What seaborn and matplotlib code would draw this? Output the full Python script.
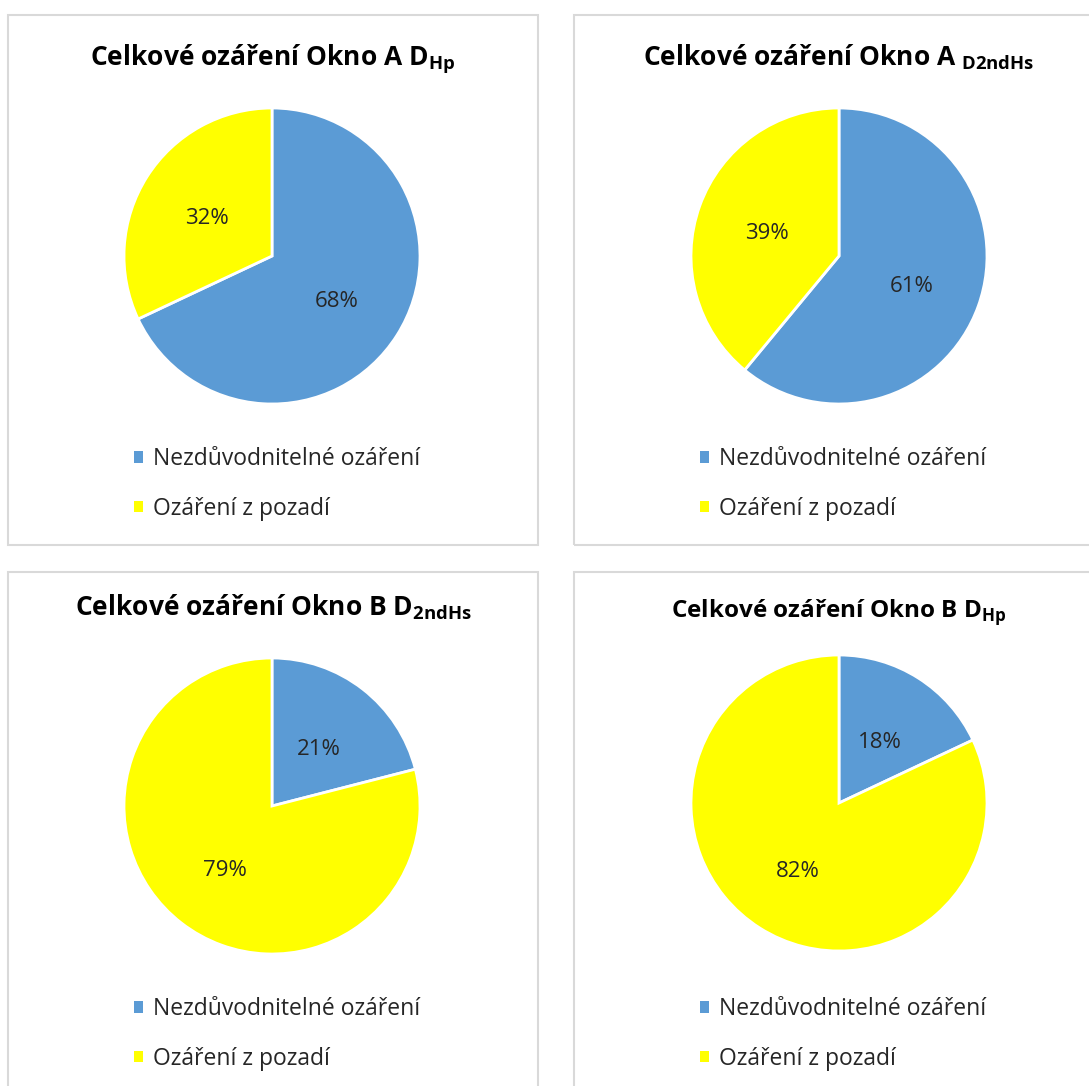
import matplotlib
matplotlib.use("Agg")
import matplotlib.pyplot as plt
from matplotlib.patches import Rectangle, Patch
from matplotlib.transforms import offset_copy
import seaborn as sns

# Chart data
titles = ["Celkové ozáření Okno A D$_{\\mathbf{Hp}}$",
          "Celkové ozáření Okno A $_{\\mathbf{D2ndHs}}$",
          "Celkové ozáření Okno B D$_{\\mathbf{2ndHs}}$",
          "Celkové ozáření Okno B D$_{\\mathbf{Hp}}$"]
categories = ["Nezdůvodnitelné ozáření", "Ozáření z pozadí"]
unjustified = [68, 61, 21, 18]
background = [32, 39, 79, 82]
colors = ["#5B9BD5", "#FFFF00"]

sns.set_theme(style="white")
plt.rcParams["font.family"] = ["Open Sans", "DejaVu Sans"]
plt.rcParams["mathtext.fontset"] = "custom"
plt.rcParams["mathtext.rm"] = "Open Sans"
plt.rcParams["mathtext.bf"] = "Open Sans:bold"

W, H = 1089, 1086
fig = plt.figure(figsize=(W / 100, H / 100), dpi=100)
fig.patch.set_facecolor("white")


def fx(x):
    return x / W


def fy(y):
    return 1 - y / H


# layout in pixels: frame corner, pie centre, title baseline/size, legend anchor
panels = [(8, 15), (574, 15), (8, 572), (574, 572)]
pie_centres = [(272, 256), (839, 256), (272, 806), (839, 803)]
title_pos = [(273, 65), (839, 65), (273, 616), (839, 617)]
title_size = [19, 19, 19, 17.5]
legend_y = [484, 484, 1034, 1034]
panel_w, panel_h = 530, 530
pie_r = 148

for i, (px, py) in enumerate(panels):
    fig.patches.append(Rectangle((fx(px), fy(py + panel_h)), panel_w / W, panel_h / H,
                                 transform=fig.transFigure, facecolor="none",
                                 edgecolor="#D9D9D9", linewidth=1.5, zorder=-1))
    cx, cy = pie_centres[i]
    ax = fig.add_axes([fx(cx - pie_r), fy(cy + pie_r), 2 * pie_r / W, 2 * pie_r / H])
    ax.set_facecolor("none")
    vals = [unjustified[i], background[i]]
    _, _, autotexts = ax.pie(vals, colors=colors, startangle=90, counterclock=False,
                             autopct=lambda p: f"{p:.0f}%", pctdistance=0.52,
                             wedgeprops=dict(edgecolor="white", linewidth=2),
                             textprops=dict(fontsize=16, color="#262626"))
    # nudge the percentage labels so the digits sit visually centred
    for t in autotexts:
        t.set_transform(offset_copy(ax.transData, fig=fig, x=0, y=-4, units="dots"))
    ax.set_xlim(-1.0, 1.0)
    ax.set_ylim(-1.0, 1.0)
    ax.set_aspect("equal")
    ax.axis("off")

    tx, ty = title_pos[i]
    fig.text(fx(tx), fy(ty), titles[i], ha="center", va="baseline",
             fontsize=title_size[i], fontweight="bold", color="black")

    handles = [Patch(facecolor=c, edgecolor="none") for c in colors]
    fig.legend(handles, categories, loc="center left",
               bbox_to_anchor=(fx(px + 126), fy(legend_y[i])), bbox_transform=fig.transFigure,
               frameon=False, fontsize=16.5, handlelength=0.4, handleheight=0.4,
               handletextpad=0.44, labelspacing=1.11, borderaxespad=0, borderpad=0,
               labelcolor="#262626")

fig.savefig("out.png", dpi=100, facecolor="white")
